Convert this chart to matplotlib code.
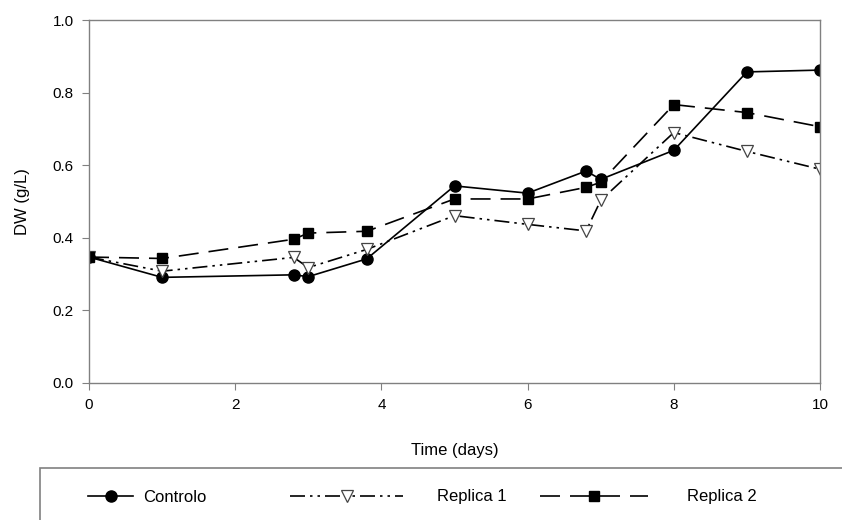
import matplotlib.pyplot as plt
from matplotlib.patches import Rectangle

plt.rcParams['font.family'] = ['Liberation Sans', 'DejaVu Sans']

# sampling times (days)
days = [0, 1, 2.8, 3.0, 3.8, 5, 6, 6.8, 7.0, 8, 9, 10]
controlo = [0.347, 0.291, 0.298, 0.293, 0.342, 0.543, 0.523, 0.584, 0.561, 0.641, 0.857, 0.862]
replica1 = [0.347, 0.308, 0.346, 0.318, 0.368, 0.461, 0.437, 0.419, 0.503, 0.690, 0.638, 0.589]
replica2 = [0.347, 0.343, 0.396, 0.413, 0.418, 0.507, 0.507, 0.539, 0.553, 0.767, 0.745, 0.706]

grey = '#808080'

fig = plt.figure(figsize=(8.42, 5.2), dpi=100)
ax = fig.add_axes([89/842, 1 - 383/520, 731/842, 363/520])

l1, = ax.plot(days, controlo, color='black', lw=1.2, marker='o', markersize=8,
              markerfacecolor='black', label='Controlo')
l2, = ax.plot(days, replica1, color='black', lw=1.2, dashes=(9, 3, 1.5, 3, 1.5, 3),
              marker='v', markersize=8, markerfacecolor='white',
              markeredgecolor='#444444', markeredgewidth=0.9, label='Replica 1')
l3, = ax.plot(days, replica2, color='black', lw=1.2, dashes=(12, 6),
              marker='s', markersize=7, markerfacecolor='black', label='Replica 2')

ax.set_xlim(0, 10)
ax.set_ylim(0, 1.0)
ax.set_xticks([0, 2, 4, 6, 8, 10])
ax.set_yticks([0.0, 0.2, 0.4, 0.6, 0.8, 1.0])
ax.set_yticklabels(['0.0', '0.2', '0.4', '0.6', '0.8', '1.0'])
for s in ax.spines.values():
    s.set_color(grey)
    s.set_linewidth(1.0)
ax.tick_params(direction='out', length=5, color=grey, labelsize=11, pad=6)

ax.set_xlabel('Time (days)', fontsize=12, labelpad=22)
ax.set_ylabel('DW (g/L)', fontsize=12, labelpad=16)

# legend box running off the page
fig.patches.append(Rectangle((40/842, -0.1), 1.0, 0.1 + (520 - 468)/520,
                             transform=fig.transFigure, fill=False,
                             edgecolor=grey, lw=1.2))

legend_pos = [(l1, 'Controlo', 88, 2.7, 0.6),
              (l2, 'Replica 1', 290, 6.8, 2.0),
              (l3, 'Replica 2', 540, 6.5, 2.3)]
for line, name, xpix, hlen, tpad in legend_pos:
    fig.legend([line], [name], loc='center left', bbox_to_anchor=(xpix/842, 1 - 497/520),
               frameon=False, numpoints=1, handlelength=hlen, handletextpad=tpad,
               fontsize=12, borderaxespad=0, borderpad=0)

fig.savefig('out.png', dpi=100)
